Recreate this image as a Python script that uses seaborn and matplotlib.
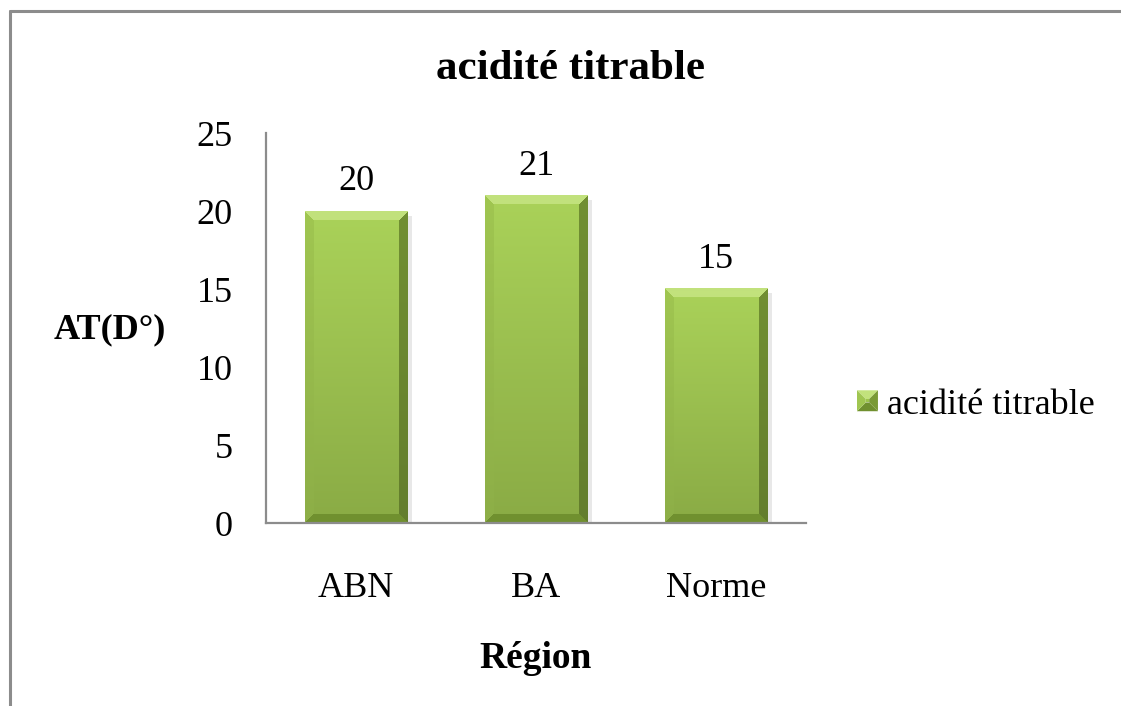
import numpy as np
import pandas as pd
import matplotlib
matplotlib.use("Agg")
import matplotlib.pyplot as plt
import seaborn as sns
from matplotlib.colors import to_rgb
from matplotlib.lines import Line2D
from matplotlib.patches import Polygon, Patch
from matplotlib.legend_handler import HandlerBase

# ---- data ----
regions = ["ABN", "BA", "Norme"]
acidite = [20, 21, 15]
series_name = "acidité titrable"
y_ticks = [0, 5, 10, 15, 20, 25]

df = pd.DataFrame({"Région": regions, "AT": acidite})

sns.set_theme(style="white")
plt.rcParams["font.family"] = ["Liberation Serif", "DejaVu Serif"]
plt.rcParams["text.color"] = "black"

W_PX, H_PX, DPI = 1121, 706, 100
fig = plt.figure(figsize=(W_PX / DPI, H_PX / DPI), dpi=DPI)
ax = fig.add_axes([266 / W_PX, 1 - 523 / H_PX, 540 / W_PX, 390 / H_PX])

BODY = "#9cc34c"
sns.barplot(data=df, x="Région", y="AT", color=BODY, width=0.57,
            saturation=1, ax=ax, zorder=2)

ax.set_ylim(0, 25)
ax.set_xlim(-0.5, len(regions) - 0.5)
ax.set_yticks(y_ticks)
ax.set_yticklabels([str(t) for t in y_ticks])

# bevelled faces for the bars
top_c = np.array(to_rgb("#c2e27c"))
left_c = np.array(to_rgb("#a0c651"))
right_c = np.array(to_rgb("#718f33"))
bot_c = np.array(to_rgb("#70902f"))
body_top = np.array(to_rgb("#aad259"))
body_bot = np.array(to_rgb("#8aab45"))

fig.canvas.draw()
for p in ax.patches:
    x0, w, h = p.get_x(), p.get_width(), p.get_height()
    if h <= 0:
        continue
    a = ax.transData.transform((x0, 0))
    b = ax.transData.transform((x0 + w, h))
    Wp, Hp = int(round(b[0] - a[0])), int(round(b[1] - a[1]))
    ii, jj = np.mgrid[0:Hp, 0:Wp]
    dt, db = ii, Hp - 1 - ii
    dl, dr = jj, Wp - 1 - jj
    dist = np.stack([dt, db, dl, dr])
    which = np.argmin(dist, axis=0)
    m = dist.min(axis=0)
    frac = (ii / max(Hp - 1, 1))[..., None]
    img = body_top * (1 - frac) + body_bot * frac
    bev = 9
    facet = m < bev
    cols = [top_c, bot_c, left_c, right_c]
    for k, c in enumerate(cols):
        sel = facet & (which == k)
        if k >= 2:
            img[sel] = c * (1 - 0.12 * frac[..., 0][sel][:, None])
        else:
            img[sel] = c
    # soft drop shadow on the right side
    sx = ax.transData.inverted().transform((b[0] + 5, a[1]))[0]
    ax.fill_between([x0 + w, sx], 0, h * 0.985, color="#d9d9d9",
                    alpha=0.6, zorder=1, linewidth=0)
    ax.imshow(img, extent=[x0, x0 + w, 0, h], aspect="auto",
              interpolation="bilinear", zorder=3)
    p.set_alpha(0)

ax.set_ylim(0, 25)
ax.set_xlim(-0.5, len(regions) - 0.5)

# value labels above the bars
for p, v in zip(ax.patches, acidite):
    ax.annotate(str(v), (p.get_x() + p.get_width() / 2, v),
                xytext=(0, 9), textcoords="offset points",
                ha="center", va="bottom", fontsize=26, color="black")

# axes styling
for s in ["top", "right"]:
    ax.spines[s].set_visible(False)
for s in ["left", "bottom"]:
    ax.spines[s].set_color("#8c8c8c")
    ax.spines[s].set_linewidth(1.6)
    ax.spines[s].set_zorder(4)
ax.tick_params(axis="y", length=0, pad=24, labelsize=26, colors="black")
ax.tick_params(axis="x", length=0, pad=35, labelsize=26, colors="black")
ax.grid(False)

ax.set_xlabel("Région", fontsize=27, fontweight="bold", color="black")
ax.xaxis.label.set_va("center")
ax.xaxis.set_label_coords(0.5, -(659 - 523) / 390)
ax.set_ylabel("AT(D°)", fontsize=26, fontweight="bold", rotation=0,
              color="black")
ax.yaxis.label.set_va("center")
ax.yaxis.label.set_ha("center")
ax.yaxis.set_label_coords((110 - 266) / 540, (523 - 330) / 390)

fig.text(570 / W_PX, 1 - 69 / H_PX, series_name, fontsize=31,
         fontweight="bold", ha="center", va="center", color="black")


# pyramid-shaped legend key
class BevelKey(HandlerBase):
    def create_artists(self, legend, orig_handle, xdescent, ydescent,
                       width, height, fontsize, trans):
        s = min(width, height)
        x0 = -xdescent + (width - s) / 2
        y0 = -ydescent + (height - s) / 2
        x1, y1 = x0 + s, y0 + s
        ins = s * 0.42
        ix0, iy0, ix1, iy1 = x0 + ins, y0 + ins, x1 - ins, y1 - ins
        faces = [
            ([(x0, y1), (x1, y1), (ix1, iy1), (ix0, iy1)], "#c2e27c"),
            ([(x0, y0), (x1, y0), (ix1, iy0), (ix0, iy0)], "#70902f"),
            ([(x0, y0), (x0, y1), (ix0, iy1), (ix0, iy0)], "#a0c651"),
            ([(x1, y0), (x1, y1), (ix1, iy1), (ix1, iy0)], "#7a9a36"),
            ([(ix0, iy0), (ix1, iy0), (ix1, iy1), (ix0, iy1)], BODY),
        ]
        return [Polygon(pts, closed=True, facecolor=c, edgecolor="none",
                        transform=trans) for pts, c in faces]


handle = Patch(facecolor=BODY, label=series_name)
leg = fig.legend(handles=[handle], handler_map={Patch: BevelKey()},
                 loc="center left",
                 bbox_to_anchor=(857 / W_PX, 1 - 405 / H_PX),
                 frameon=False, fontsize=26, borderpad=0, borderaxespad=0,
                 handlelength=0.58, handleheight=0.58, handletextpad=0.25)
for t in leg.get_texts():
    t.set_color("black")

# chart frame
fig.add_artist(Line2D([10 / W_PX, 10 / W_PX], [0, 1 - 11 / H_PX],
                      transform=fig.transFigure, color="#8c8c8c", lw=2.2))
fig.add_artist(Line2D([10 / W_PX, 1], [1 - 11 / H_PX, 1 - 11 / H_PX],
                      transform=fig.transFigure, color="#8c8c8c", lw=2.2))

fig.savefig("out.png", dpi=DPI, facecolor="white")
